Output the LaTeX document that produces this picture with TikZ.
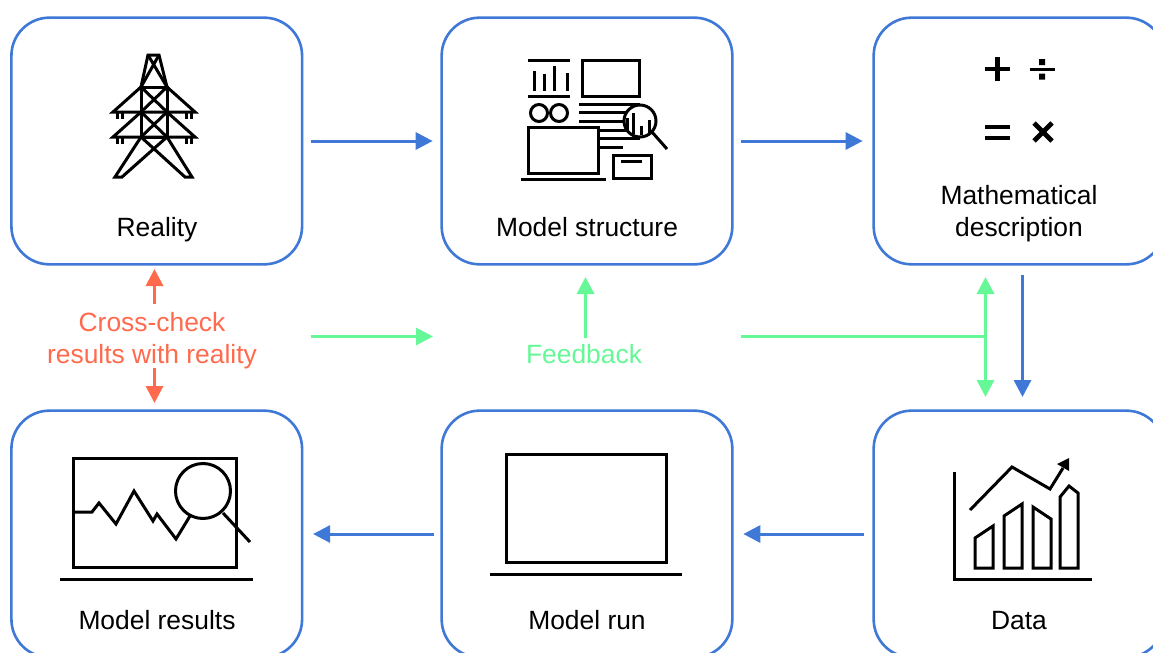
\documentclass[tikz,border=0pt]{standalone}
\usepackage{fontspec}
\setmainfont{Liberation Sans}
\usetikzlibrary{arrows.meta}
\definecolor{boxblue}{HTML}{3F78D6}
\definecolor{fbgreen}{HTML}{66F896}
\definecolor{ccorange}{HTML}{FF6A4D}
\tikzset{
  card/.style={draw=boxblue,line width=1.95pt,rounded corners=28.5pt,minimum width=218pt,minimum height=185pt,inner sep=0pt,outer sep=0pt,fill=white},
  lab/.style={font=\fontsize{19.8}{24}\selectfont,inner sep=0pt,align=center,anchor=base},
  flow/.style={line width=2.25pt,-{Triangle[length=12.75pt,width=12.75pt]}},
  blueflow/.style={flow,boxblue},
  greenflow/.style={flow,fbgreen},
  redflow/.style={flow,ccorange},
  ico/.style={draw=black,line width=2.25pt,line join=miter},
}
\begin{document}
\begin{tikzpicture}[x=0.75pt,y=-0.75pt]
\useasboundingbox (0,0) rectangle (1153,653);
% cards
\node[card] (reality) at (156.75,141) {};
\node[card] (structure) at (587,141) {};
\node[card] (math) at (1019,141) {};
\node[card] (results) at (156.75,534) {};
\node[card] (run) at (587,534) {};
\node[card] (data) at (1019,534) {};
% labels
\node[lab] (l1) at (157,236) {Reality};
\node[lab] (l2) at (587,236) {Model structure};
\node[lab] (l3a) at (1019,204) {Mathematical};
\node[lab] (l3b) at (1019,236) {description};
\node[lab] (l4) at (157,629) {Model results};
\node[lab] (l5) at (587,629) {Model run};
\node[lab] (l6) at (1019,629) {Data};
\node[lab,text=ccorange] (cross1) at (152,331) {Cross-check};
\node[lab,text=ccorange] (cross2) at (152,363) {results with reality};
\node[lab,text=fbgreen] (feedback) at (584,363) {Feedback};
% blue flow
\draw[blueflow,shorten <=6.75pt,shorten >=6.75pt] (reality.east) -- (structure.west);
\draw[blueflow,shorten <=6.75pt,shorten >=8.25pt] (structure.east) -- (math.west);
\coordinate (mdA) at (1022.5,275);
\coordinate (mdB) at (1022.5,397);
\draw[blueflow] (mdA) -- (mdB);
\draw[blueflow,shorten <=7.5pt,shorten >=8.25pt] (data.west) -- (run.east);
\draw[blueflow,shorten <=6pt,shorten >=8.25pt] (run.west) -- (results.east);
% green feedback
\coordinate (gA) at (311,336.5);
\coordinate (gB) at (433,336.5);
\coordinate (gC) at (741,336.5);
\coordinate (gJ) at (985.5,336.5);
\coordinate (gT) at (985.5,277);
\coordinate (gD) at (985.5,397);
\coordinate (gF) at (585.5,338);
\coordinate (gS) at (585.5,277);
\draw[greenflow] (gA) -- (gB);
\draw[greenflow] (gF) -- (gS);
\draw[fbgreen,line width=2.25pt] (gC) -- (gJ);
\draw[greenflow,{Triangle[length=12.75pt,width=12.75pt]}-{Triangle[length=12.75pt,width=12.75pt]}] (gT) -- (gD);
% orange
\coordinate (oA) at (154.5,304);
\coordinate (oB) at (154.5,269);
\coordinate (oC) at (154.5,368);
\coordinate (oD) at (154.5,403);
\draw[redflow] (oA) -- (oB);
\draw[redflow] (oC) -- (oD);
% tower
\begin{scope}[ico]
\draw (141,87) -- (148,55) -- (159,55) -- (167,87);
\draw (148,55) -- (167,87) (159,55) -- (141,87);
\draw (141,87) rectangle (167,137);
\draw (141,87) -- (167,112) (167,87) -- (141,112) (141,112) -- (167,137) (167,112) -- (141,137);
\draw (141,87) -- (113,112) -- (195,112) -- (167,87);
\draw (141,112) -- (113,137) -- (195,137) -- (167,112);
\draw (141,137) -- (115,177) -- (122,177) -- (167,137);
\draw (167,137) -- (192,177) -- (185,177) -- (141,137);
\draw (117,112) -- (117,119) (122,112) -- (122,119) (186,112) -- (186,119) (191,112) -- (191,119);
\draw (117,137) -- (117,144) (122,137) -- (122,144) (186,137) -- (186,144) (191,137) -- (191,144);
\end{scope}
% model structure icon
\begin{scope}[ico]
\draw (528,60) -- (570,60) (528,96) -- (570,96);
\draw (534,71) -- (534,91) (544,74) -- (544,91) (554,66) -- (554,91) (567,73) -- (567,91);
\draw (582,60) rectangle (639,96);
\draw (539,113) circle (8.5) (559,113) circle (8.5);
\draw (579,104) -- (640,104) (579,112) -- (626,112) (579,121) -- (626,121);
\draw (598,130) -- (640,130) (598,138) -- (640,138) (598,147) -- (623,147);
\draw (528,127) rectangle (598,173);
\draw (521,179) -- (606,179);
\draw (613,155) rectangle (651,178);
\draw (621,161) -- (642,161);
\draw[fill=white] (640,121) circle (16);
\draw (652,132) -- (667,149);
\draw (627,118) -- (627,130) (633,113) -- (633,134) (641,126) -- (641,135) (649,120) -- (649,133);
\end{scope}
% maths
\begin{scope}[draw=black,line width=3.6pt]
\draw (985,69) -- (1010,69) (997.5,57) -- (997.5,81);
\draw (985,127) -- (1010,127) (985,138) -- (1010,138);
\draw (1034,123) -- (1052,141) (1052,123) -- (1034,141);
\end{scope}
\draw[black,line width=2.25pt] (1029.5,69) -- (1054.5,69);
\fill[black] (1039,59) rectangle (1045,65) (1039,73.5) rectangle (1045,79.5);
% model results icon
\begin{scope}[ico]
\draw (73.5,458.5) rectangle (236,567);
\draw (60,579) -- (253,579);
\draw (73,512) -- (92,512) -- (99,503) -- (116,524) -- (134,491) -- (153,521) -- (157,514) -- (176,539) -- (190,516);
\draw[fill=white] (203,491) circle (27.5);
\draw (223,513) -- (250,542);
\end{scope}
% model run icon
\begin{scope}[ico]
\draw (506,454) rectangle (666,562);
\draw (490,574) -- (682,574);
\end{scope}
% data icon
\begin{scope}[ico]
\draw (954,472) -- (954,579) -- (1092,579);
\draw (975,568) -- (975,538) -- (993,526) -- (993,568) -- cycle;
\draw (1004,568) -- (1004,516) -- (1022,504) -- (1022,568) -- cycle;
\draw (1033,568) -- (1033,507) -- (1051,519) -- (1051,568) -- cycle;
\draw (1060,568) -- (1060,497) -- (1069,486) -- (1078,493) -- (1078,568) -- cycle;
\draw (970,510) -- (1012,467) -- (1050,489) -- (1063,468);
\fill[black] (1069,458) -- (1069,471) -- (1057,464) -- cycle;
\end{scope}
\end{tikzpicture}
\end{document}
